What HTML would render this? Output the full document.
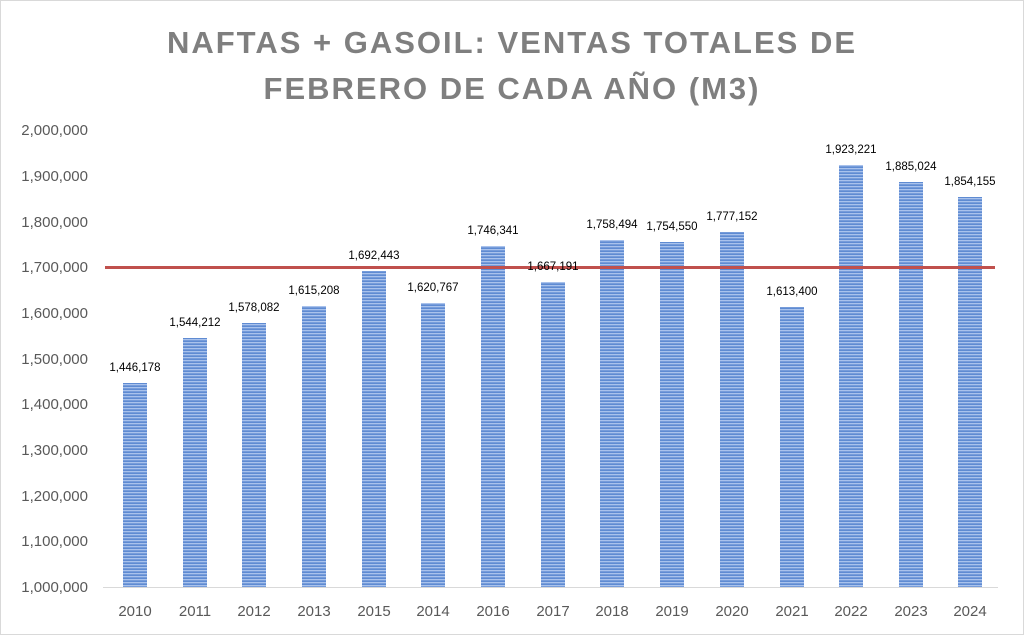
<!DOCTYPE html>
<html><head><meta charset="utf-8"><style>
html,body{margin:0;padding:0;background:#fff;}
svg{display:block;}
</style></head><body>
<svg width="1024" height="635" viewBox="0 0 1024 635" xmlns="http://www.w3.org/2000/svg" font-family="Liberation Sans, sans-serif">
<defs>
<pattern id="st" width="4" height="3" patternUnits="userSpaceOnUse">
<rect width="4" height="3" fill="#5f8bd2"/>
<rect width="4" height="1.3" fill="#a9c2ec"/>
</pattern>
</defs>
<rect x="0.5" y="0.5" width="1023" height="634" fill="#fff" stroke="#d9d9d9"/>
<g fill="#7f7f7f" font-weight="bold" font-size="31" text-anchor="middle" letter-spacing="2">
<text x="512" y="53">NAFTAS + GASOIL: VENTAS TOTALES DE</text>
<text x="512" y="99">FEBRERO DE CADA AÑO (M3)</text>
</g>
<line x1="103" y1="587.5" x2="998" y2="587.5" stroke="#d9d9d9"/>
<g fill="#595959" font-size="15" text-anchor="end">
<text x="88" y="135">2,000,000</text>
<text x="88" y="181">1,900,000</text>
<text x="88" y="227">1,800,000</text>
<text x="88" y="272">1,700,000</text>
<text x="88" y="318">1,600,000</text>
<text x="88" y="364">1,500,000</text>
<text x="88" y="409">1,400,000</text>
<text x="88" y="455">1,300,000</text>
<text x="88" y="501">1,200,000</text>
<text x="88" y="546">1,100,000</text>
<text x="88" y="592">1,000,000</text>
</g>
<g id="bars">
<rect x="123" y="383" width="24" height="204" fill="url(#st)"/>
<rect x="183" y="338" width="24" height="249" fill="url(#st)"/>
<rect x="242" y="323" width="24" height="264" fill="url(#st)"/>
<rect x="302" y="306" width="24" height="281" fill="url(#st)"/>
<rect x="362" y="271" width="24" height="316" fill="url(#st)"/>
<rect x="421" y="303" width="24" height="284" fill="url(#st)"/>
<rect x="481" y="246" width="24" height="341" fill="url(#st)"/>
<rect x="541" y="282" width="24" height="305" fill="url(#st)"/>
<rect x="600" y="240" width="24" height="347" fill="url(#st)"/>
<rect x="660" y="242" width="24" height="345" fill="url(#st)"/>
<rect x="720" y="232" width="24" height="355" fill="url(#st)"/>
<rect x="780" y="307" width="24" height="280" fill="url(#st)"/>
<rect x="839" y="165" width="24" height="422" fill="url(#st)"/>
<rect x="899" y="182" width="24" height="405" fill="url(#st)"/>
<rect x="958" y="197" width="24" height="390" fill="url(#st)"/>
</g>
<line x1="105" y1="267.5" x2="995" y2="267.5" stroke="#c0504d" stroke-width="3"/>
<g fill="#000" font-size="11.5" text-anchor="middle">
<text x="135" y="371">1,446,178</text>
<text x="195" y="326">1,544,212</text>
<text x="254" y="311">1,578,082</text>
<text x="314" y="294">1,615,208</text>
<text x="374" y="259">1,692,443</text>
<text x="433" y="291">1,620,767</text>
<text x="493" y="234">1,746,341</text>
<text x="553" y="270">1,667,191</text>
<text x="612" y="228">1,758,494</text>
<text x="672" y="230">1,754,550</text>
<text x="732" y="220">1,777,152</text>
<text x="792" y="295">1,613,400</text>
<text x="851" y="153">1,923,221</text>
<text x="911" y="170">1,885,024</text>
<text x="970" y="185">1,854,155</text>
</g>
<g fill="#595959" font-size="15" text-anchor="middle">
<text x="135" y="616">2010</text>
<text x="195" y="616">2011</text>
<text x="254" y="616">2012</text>
<text x="314" y="616">2013</text>
<text x="374" y="616">2015</text>
<text x="433" y="616">2014</text>
<text x="493" y="616">2016</text>
<text x="553" y="616">2017</text>
<text x="612" y="616">2018</text>
<text x="672" y="616">2019</text>
<text x="732" y="616">2020</text>
<text x="792" y="616">2021</text>
<text x="851" y="616">2022</text>
<text x="911" y="616">2023</text>
<text x="970" y="616">2024</text>
</g>
</svg>
</body></html>
